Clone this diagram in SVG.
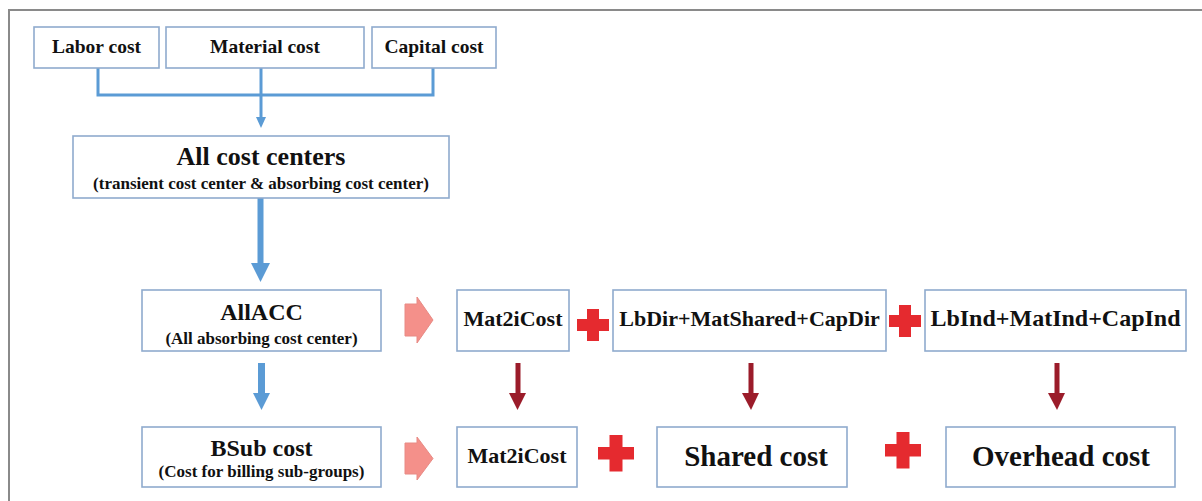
<svg xmlns="http://www.w3.org/2000/svg" width="1202" height="501" viewBox="0 0 1202 501">
<defs>
<style>
.box{fill:#fff;stroke:#8fabce;stroke-width:1.6}
.blue{stroke:#5b9bd5;fill:none}
.bluef{fill:#5b9bd5}
.dred{fill:#9b1c2a}
.pink{fill:#f4908a;stroke:#e88a84;stroke-width:1}
.plus{fill:#e52a2f}
</style>
</defs>
<rect width="1202" height="501" fill="#fff"/>
<path d="M9,501 V10 H1202" fill="none" stroke="#8a8a8a" stroke-width="2"/>

<g id="connectors">
  <path class="blue" stroke-width="3" d="M98,68 V95 H433 V68"/>
  <path class="blue" stroke-width="3" d="M261,68 V118"/>
  <polygon class="bluef" points="256,117 266,117 261,128"/>
  <rect class="bluef" x="257.5" y="198" width="6" height="66"/>
  <polygon class="bluef" points="251,263 270,263 260.5,282"/>
  <rect class="bluef" x="258" y="363" width="7" height="31"/>
  <polygon class="bluef" points="253,393 270,393 261.5,410"/>
  <rect class="dred" x="515.5" y="363" width="5" height="31"/>
  <polygon class="dred" points="509,393 526,393 517.5,410"/>
  <rect class="dred" x="748.5" y="363" width="5" height="31"/>
  <polygon class="dred" points="742,393 759,393 751,410"/>
  <rect class="dred" x="1054.5" y="363" width="5" height="31"/>
  <polygon class="dred" points="1048,393 1065,393 1057,410"/>
  <polygon class="pink" points="405,304 417,304 417,297 433,320 417,343 417,336 405,336"/>
  <polygon class="pink" points="405,443 417,443 417,437 433,458.5 417,480 417,474 405,474"/>
  <path class="plus" d="M587,309 h12 v10 h10 v12 h-10 v10 h-12 v-10 h-10 v-12 h10 z"/>
  <path class="plus" d="M899,305 h12 v10 h10 v12 h-10 v10 h-12 v-10 h-10 v-12 h10 z"/>
  <path class="plus" d="M609.5,435 h13 v12 h11.5 v12.5 h-11.5 v12 h-13 v-12 h-11.5 v-12.5 h11.5 z"/>
  <path class="plus" d="M896.5,432 h13 v12 h11.5 v12.5 h-11.5 v12 h-13 v-12 h-11.5 v-12.5 h11.5 z"/>
</g>

<g id="labor"><rect class="box" x="34" y="27" width="125" height="41"/><text x="96.5" y="53" font-size="19.5" fill="#111" text-anchor="middle" style="font-family:'Liberation Serif',serif;font-weight:bold">Labor cost</text></g>
<g id="material"><rect class="box" x="166" y="27" width="198" height="41"/><text x="265" y="53" font-size="19.5" fill="#111" text-anchor="middle" style="font-family:'Liberation Serif',serif;font-weight:bold">Material cost</text></g>
<g id="capital"><rect class="box" x="372" y="27" width="124" height="41"/><text x="434" y="53" font-size="19.5" fill="#111" text-anchor="middle" style="font-family:'Liberation Serif',serif;font-weight:bold">Capital cost</text></g>

<g id="allcc"><rect class="box" x="73" y="136" width="376" height="62"/><text x="261" y="165" font-size="26" fill="#111" text-anchor="middle" style="font-family:'Liberation Serif',serif;font-weight:bold">All cost centers</text><text x="261" y="189" font-size="17" fill="#111" text-anchor="middle" style="font-family:'Liberation Serif',serif;font-weight:bold">(transient cost center &amp; absorbing cost center)</text></g>

<g id="allacc"><rect class="box" x="142" y="290" width="239" height="61"/><text x="261.5" y="320" font-size="24" fill="#111" text-anchor="middle" style="font-family:'Liberation Serif',serif;font-weight:bold">AllACC</text><text x="261.5" y="344" font-size="17" fill="#111" text-anchor="middle" style="font-family:'Liberation Serif',serif;font-weight:bold">(All absorbing cost center)</text></g>

<g id="bsub"><rect class="box" x="142" y="427" width="239" height="60"/><text x="261.5" y="456" font-size="24" fill="#111" text-anchor="middle" style="font-family:'Liberation Serif',serif;font-weight:bold">BSub cost</text><text x="261.5" y="477" font-size="17" fill="#111" text-anchor="middle" style="font-family:'Liberation Serif',serif;font-weight:bold">(Cost for billing sub-groups)</text></g>

<g id="mat2i1"><rect class="box" x="457" y="290" width="112" height="61"/><text x="513" y="326" font-size="22" fill="#111" text-anchor="middle" style="font-family:'Liberation Serif',serif;font-weight:bold">Mat2iCost</text></g>
<g id="lbdir"><rect class="box" x="613" y="290" width="273" height="61"/><text x="749.5" y="326" font-size="22" fill="#111" text-anchor="middle" style="font-family:'Liberation Serif',serif;font-weight:bold">LbDir+MatShared+CapDir</text></g>
<g id="lbind"><rect class="box" x="925" y="290" width="261" height="61"/><text x="1055.5" y="326" font-size="24" fill="#111" text-anchor="middle" style="font-family:'Liberation Serif',serif;font-weight:bold">LbInd+MatInd+CapInd</text></g>

<g id="mat2i2"><rect class="box" x="457" y="427" width="120" height="60"/><text x="517" y="463" font-size="22" fill="#111" text-anchor="middle" style="font-family:'Liberation Serif',serif;font-weight:bold">Mat2iCost</text></g>
<g id="shared"><rect class="box" x="657" y="427" width="190" height="60"/><text x="756" y="466" font-size="29" fill="#111" text-anchor="middle" style="font-family:'Liberation Serif',serif;font-weight:bold">Shared cost</text></g>
<g id="overhead"><rect class="box" x="946" y="427" width="229" height="60"/><text x="1061" y="466" font-size="29" fill="#111" text-anchor="middle" style="font-family:'Liberation Serif',serif;font-weight:bold">Overhead cost</text></g>
</svg>
